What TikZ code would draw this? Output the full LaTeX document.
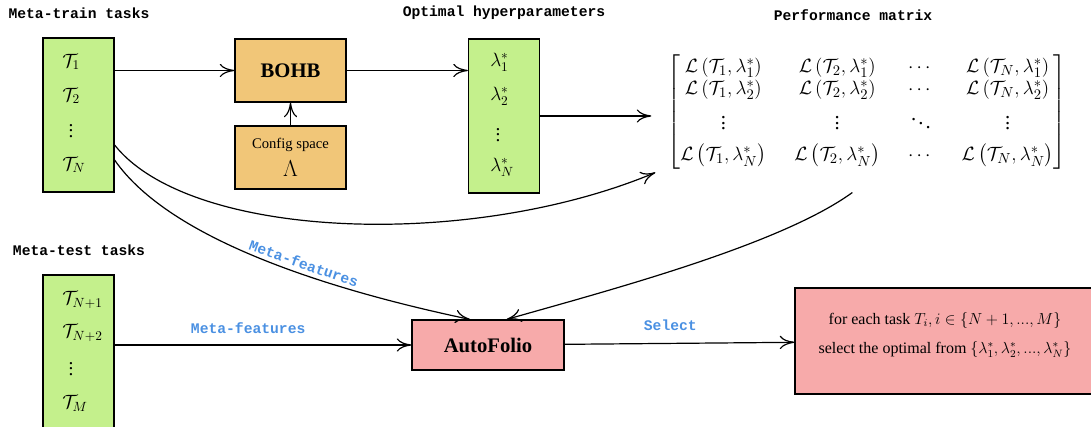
\documentclass[tikz,border=0pt]{standalone}
\usepackage{amsmath}
\usepackage[no-math]{fontspec}
\setmainfont{Liberation Serif}
\setmonofont{Liberation Mono}
\usetikzlibrary{arrows.meta}

\definecolor{taskgreen}{RGB}{196,240,140}
\definecolor{bohborange}{RGB}{241,198,120}
\definecolor{folpink}{RGB}{247,170,170}
\definecolor{featblue}{RGB}{74,144,226}

\begin{document}
\begin{tikzpicture}[x=0.75pt, y=-0.75pt]

    % Styles
    \tikzstyle{task} = [rectangle, minimum width=53.25pt, minimum height=115.5pt, draw=black, fill=taskgreen, line width=0.9pt]
    \tikzstyle{item} = [font=\fontsize{14.5}{16}\selectfont, inner sep=0pt]
    \tikzstyle{tool} = [rectangle, minimum width=83.25pt, minimum height=47.25pt, text centered, draw=black, fill=bohborange, line width=0.9pt]
    \tikzstyle{folio} = [rectangle, minimum width=114pt, minimum height=37.5pt, text centered, draw=black, fill=folpink, line width=0.9pt]
    \tikzstyle{title} = [font=\ttfamily\bfseries\fontsize{11}{13}\selectfont]
    \tikzstyle{feat} = [font=\ttfamily\bfseries\fontsize{11}{13}\selectfont, text=featblue]
    \tikzstyle{arrow} = [line width=0.9pt, -{To[length=11pt,width=10pt]}]

    \useasboundingbox (0,0) rectangle (1091,427);

    % Noeuds
    \node (train-title) [title] at (79,13) {Meta-train tasks};
    \node (train) [task] at (78.5,115) {};
    \node (t1) [item, anchor=west] at (62,62) {$\mathcal{T}_1$};
    \node (t2) [item, anchor=west] at (62,96) {$\mathcal{T}_2$};
    \node (tdots) [item] at (71,127) {$\vdots$};
    \node (tN) [item, anchor=west] at (62,165) {$\mathcal{T}_N$};

    \node (bohb) [tool, font=\bfseries\fontsize{15.5}{18}\selectfont] at (290.5,70.5) {BOHB};
    \node (cfg) [tool, align=center, font=\fontsize{11}{13}\selectfont] at (290.5,157.5) {Config space\\[6pt]{\fontsize{16}{18}\selectfont$\Lambda$}};

    \node (lam-title) [title] at (504,13) {Optimal hyperparameters};
    \node (lam) [task] at (504,116) {};
    \node (l1) [item, anchor=west] at (490,62) {$\lambda_1^*$};
    \node (l2) [item, anchor=west] at (490,96) {$\lambda_2^*$};
    \node (ldots) [item] at (498,131) {$\vdots$};
    \node (lN) [item, anchor=west] at (490,167) {$\lambda_N^*$};

    \node (perf-title) [title] at (853,15) {Performance matrix};
    \node (perf) [font=\fontsize{15.5}{16.5}\selectfont, inner sep=2pt] at (867,112) {\setlength{\arraycolsep}{10.5pt}$\begin{bmatrix}
        \mathcal{L}\left(\mathcal{T}_1,\lambda_1^*\right) & \mathcal{L}\left(\mathcal{T}_2,\lambda_1^*\right) & \cdots & \mathcal{L}\left(\mathcal{T}_N,\lambda_1^*\right)\\
        \mathcal{L}\left(\mathcal{T}_1,\lambda_2^*\right) & \mathcal{L}\left(\mathcal{T}_2,\lambda_2^*\right) & \cdots & \mathcal{L}\left(\mathcal{T}_N,\lambda_2^*\right)\\[6pt]
        \vdots & \vdots & \ddots & \vdots\\[6pt]
        \mathcal{L}\left(\mathcal{T}_1,\lambda_N^*\right) & \mathcal{L}\left(\mathcal{T}_2,\lambda_N^*\right) & \cdots & \mathcal{L}\left(\mathcal{T}_N,\lambda_N^*\right)
    \end{bmatrix}$};
    \coordinate (perf-in) at ([xshift=-10pt]perf.west);

    \node (test-title) [title] at (79,250) {Meta-test tasks};
    \node (test) [task] at (78.5,352) {};
    \node (s1) [item, anchor=west] at (62,300) {$\mathcal{T}_{N+1}$};
    \node (s2) [item, anchor=west] at (62,333) {$\mathcal{T}_{N+2}$};
    \node (sdots) [item] at (71,365) {$\vdots$};
    \node (sM) [item, anchor=west] at (62,403) {$\mathcal{T}_M$};

    \node (autofolio) [folio, font=\bfseries\fontsize{15.5}{18}\selectfont] at (488,345) {AutoFolio};
    \node (res) [folio, minimum width=225pt, minimum height=79.5pt] at (945,341) {};
    \node (res-text) [align=center, font=\fontsize{12}{14}\selectfont] at (945,335) {for each task $T_i, i \in \{N+1, ..., M\}$\\[8pt]select the optimal from $\{\lambda_1^*, \lambda_2^*, ..., \lambda_N^*\}$};

    % Fleches
    \draw [arrow] (train.east |- bohb) -- (bohb);
    \draw [arrow] (cfg) -- (bohb);
    \draw [arrow] (bohb) -- (bohb -| lam.west);
    \draw [arrow] (lam.east) -- (lam.east -| perf-in);
    \draw [arrow] ([yshift=-22.5pt]train.east) .. controls (190,240) and (470,250) .. ([xshift=-7pt]perf.south west);
    \draw [arrow] ([yshift=-33.75pt]train.east) .. controls (170,240) and (330,290) .. ([xshift=-13.5pt]autofolio.north)
        node [feat, sloped, above, pos=0.6] {Meta-features};
    \draw [arrow] ([xshift=-11pt,yshift=-15pt]perf.south) .. controls (780,245) and (610,290) .. ([xshift=14pt]autofolio.north);
    \draw [arrow] (test.east |- autofolio) -- (autofolio) node [feat, above=5pt, pos=0.45] {Meta-features};
    \draw [arrow] (autofolio) -- (res) node [feat, above=6pt, pos=0.46] {Select};

\end{tikzpicture}
\end{document}
